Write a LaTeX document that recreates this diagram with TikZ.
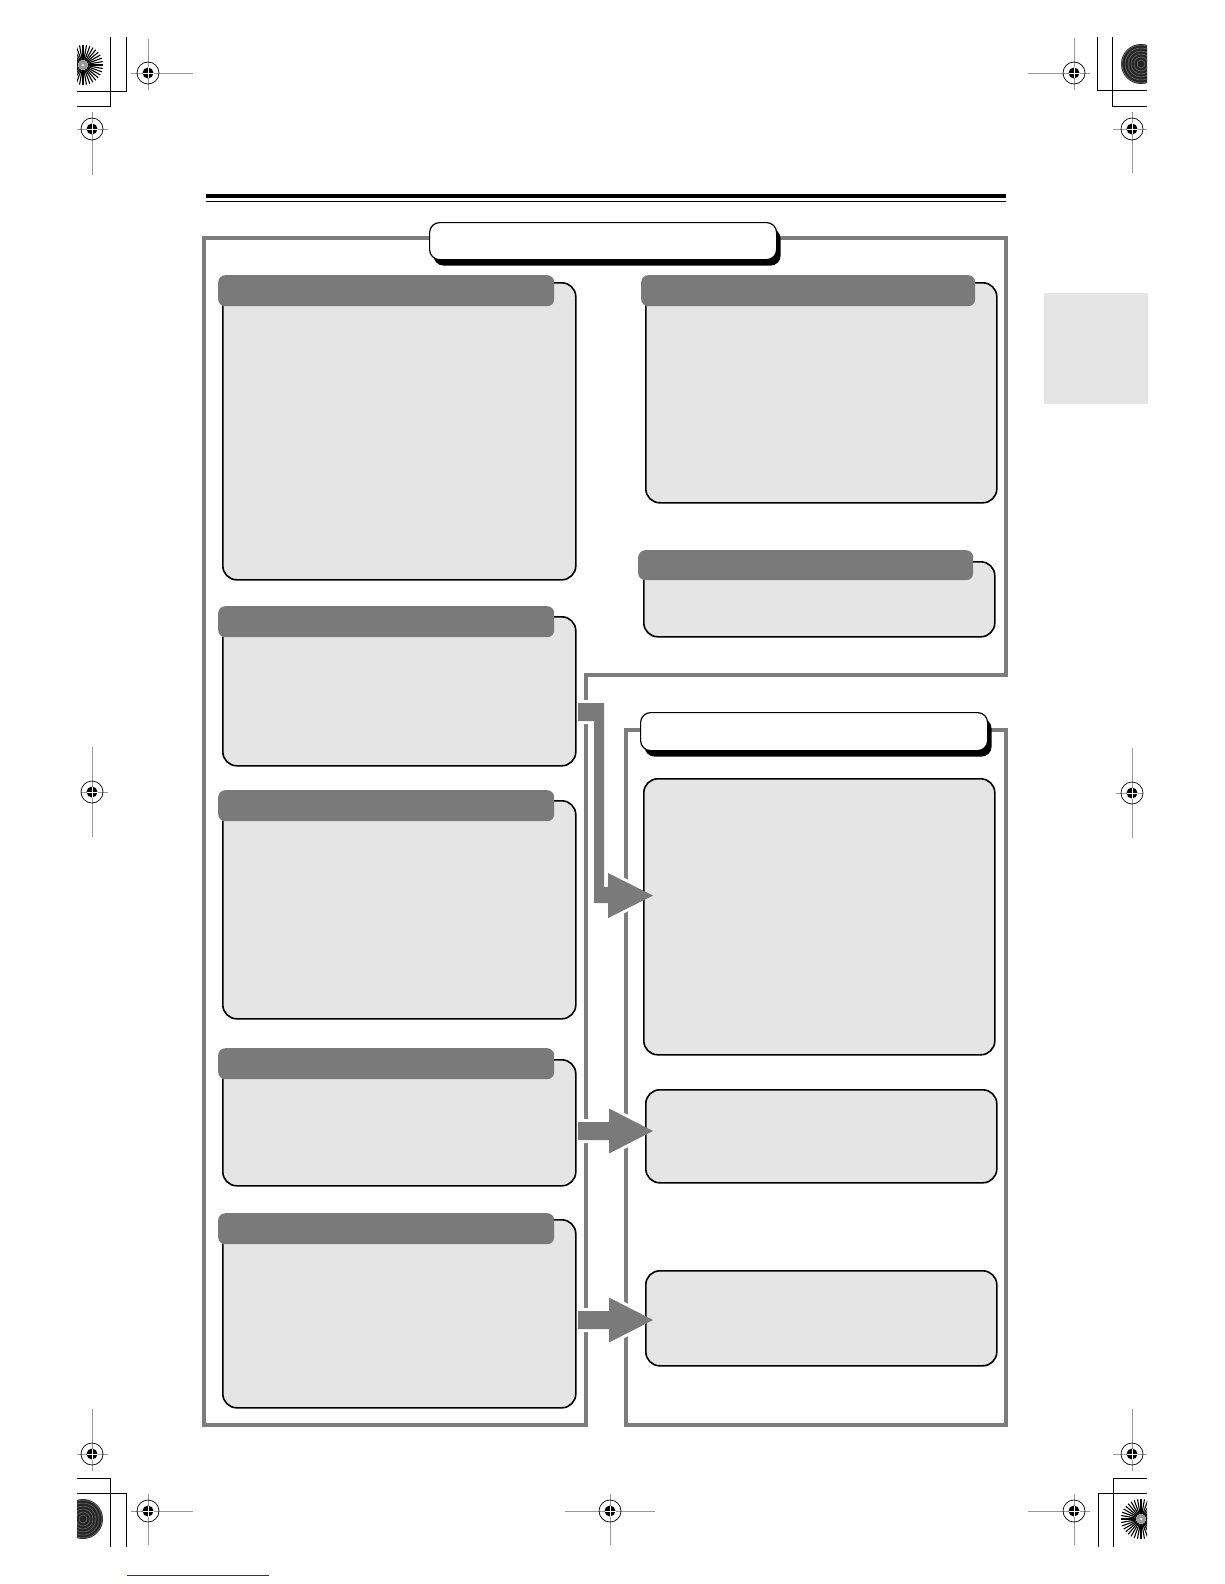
\documentclass[tikz,border=0pt]{standalone}
\usetikzlibrary{shadows}
\definecolor{framegray}{RGB}{125,125,125}
\definecolor{hdrgray}{RGB}{122,122,122}
\definecolor{panelfill}{RGB}{229,229,229}
\definecolor{linkblue}{RGB}{40,40,150}
\tikzset{
	panel/.style={
		draw,
		line width=1.6pt,
		fill=panelfill,
		rounded corners=14pt,
		inner sep=0pt,
		anchor=north west,
		minimum width=353pt
	},
	header/.style={
		fill=hdrgray,
		rounded corners=7pt,
		inner sep=0pt,
		anchor=north west,
		minimum height=31pt
	},
	titlebox/.style={
		draw,
		line width=1.2pt,
		fill=white,
		rounded corners=10pt,
		inner sep=0pt,
		anchor=north west,
		minimum width=347pt,
		minimum height=37pt,
		drop shadow={fill=black, opacity=1, shadow xshift=4pt, shadow yshift=-6pt}
	},
	frameline/.style={draw=framegray, line width=4pt},
	flowarrow/.style={fill=hdrgray},
	arrowgap/.style={draw=white, line width=6pt, line join=round},
	hairline/.style={draw=black!40, line width=0.8pt},
	cropline/.style={draw=black, line width=1pt}
}
% registration mark: x, y, left, right, up, down
\newcommand{\regmark}[6]{%
	\draw[hairline] (#1-#3,#2) -- (#1+#4,#2) (#1,#2-#5) -- (#1,#2+#6);
	\draw[line width=0.7pt] (#1,#2) circle[radius=11pt];
	\fill (#1,#2) circle[radius=5.5pt];
	\draw[white, line width=0.7pt] (#1-5.5,#2) -- (#1+5.5,#2) (#1,#2-5.5) -- (#1,#2+5.5);
}
\newcommand{\spokedisk}[2]{%
	\begin{scope}
	\clip (77,0) rectangle (1147,1584);
	\fill[white] (#1,#2) circle[radius=20pt];
	\foreach \ang in {0,10,...,350} \draw[line width=1.1pt] (#1,#2) ++(\ang:5pt) -- ++(\ang:15pt);
	\fill[black!40] (#1,#2) circle[radius=5pt];
	\fill[white] (#1,#2) circle[radius=1.2pt];
	\end{scope}
}
\newcommand{\ringdisk}[2]{%
	\begin{scope}
	\clip (77,0) rectangle (1147,1584);
	\fill[black!85] (#1,#2) circle[radius=20pt];
	\foreach \rr in {4,7,...,19} \draw[black!55, line width=0.5pt] (#1,#2) circle[radius=\rr pt];
	\end{scope}
}
\newcommand{\blockarrow}[2]{%
	\path[#1] (#2) ++(0,-9) -- ++(31,0) -- ++(0,-13.5) -- ++(44,22.5) -- ++(-44,22.5) -- ++(0,-13.5) -- ++(-31,0) -- cycle;
}
\newcommand{\bentarrow}[1]{%
	\path[#1] (arrA) -- ++(26,0) -- ++(0,184) -- ++(4,0) -- ++(0,-14) -- ++(45,22.5) -- ++(-45,22.5) -- ++(0,-15) -- ++(-14,0) -- ++(0,-182) -- ++(-16,0) -- cycle;
}
\begin{document}
\begin{tikzpicture}[x=1pt, y=-1pt]
	\path[use as bounding box, fill=white] (0,0) rectangle (1224,1584);
	
	% printer marks
	\draw[cropline] (126,37) -- (126,92) -- (77,92) (110,37) -- (110,107) -- (77,107);
	\draw[cropline] (1097,37) -- (1097,91) -- (1147,91) (1112,37) -- (1112,107) -- (1147,107);
	\draw[cropline] (77,1478) -- (110,1478) -- (110,1547) (77,1493) -- (126,1493) -- (126,1547);
	\draw[cropline] (1147,1478) -- (1113,1478) -- (1113,1547) (1147,1493) -- (1098,1493) -- (1098,1547);
	\spokedisk{83}{65}
	\ringdisk{1141}{64}
	\ringdisk{83}{1519}
	\spokedisk{1141}{1519}
	\regmark{148}{73}{17}{45}{34}{17}
	\regmark{92}{129}{15}{16}{17}{46}
	\regmark{1074}{73}{46}{16}{35}{17}
	\regmark{1132}{129}{19}{15}{17}{44}
	\regmark{92}{792}{11}{16}{45}{45}
	\regmark{1132}{793}{16}{11}{45}{45}
	\regmark{92}{1454}{15}{16}{45}{17}
	\regmark{148}{1511}{17}{45}{17}{34}
	\regmark{610}{1511}{45}{45}{17}{34}
	\regmark{1074}{1511}{46}{16}{17}{34}
	\regmark{1132}{1454}{19}{15}{45}{17}
	\draw[linkblue, line width=1pt] (127,1575) -- (269,1575);
	
	% side tab and heading rules
	\fill[panelfill] (1044,293) rectangle (1148,404);
	\draw[line width=4pt] (206,196) -- (1006,196);
	\draw[line width=1.2pt] (206,201.5) -- (1006,201.5);
	
	% frames
	\draw[frameline] (204,238) -- (1006,238) -- (1006,675) -- (586,675) -- (586,1425) -- (204,1425) -- cycle;
	\draw[frameline] (626,730) -- (1006,730) -- (1006,1425) -- (626,1425) -- cycle;
	
	\coordinate (arrA) at (578,703);
	\coordinate (arrB) at (578,1131);
	\coordinate (arrC) at (578,1320);
	\bentarrow{arrowgap}
	\blockarrow{arrowgap}{arrB}
	\blockarrow{arrowgap}{arrC}
	
	% titles
	\node[titlebox] (maintitle) at (429,222) {};
	\node[titlebox, minimum height=38pt] (subtitle) at (640,712) {};
	
	% left column
	\foreach \n/\ya/\yb/\hy in {1/282/579/275, 2/616/765/606, 3/800/1018/790, 4/1059/1185/1048, 5/1219/1407/1213} {
		\node[panel, minimum height={(\yb-\ya)*1pt}] (lpanel\n) at (222,\ya) {};
		\node[header, minimum width=336pt] (lheader\n) at (218,\hy) {};
	}
	
	% right column
	\node[panel, minimum width=351pt, minimum height=220pt] (rpanel1) at (645,282) {};
	\node[header, minimum width=334pt] (rheader1) at (641,275) {};
	\node[panel, minimum width=351pt, minimum height=75pt] (rpanel2) at (643,561) {};
	\node[header, minimum width=335pt, minimum height=30pt] (rheader2) at (638,550) {};
	
	\node[panel, minimum width=351pt, minimum height=276pt] (opanel1) at (643,778) {};
	\node[panel, minimum width=351pt, minimum height=93pt] (opanel2) at (645,1089) {};
	\node[panel, minimum width=351pt, minimum height=95pt] (opanel3) at (645,1270) {};
	
	% arrows
	\bentarrow{flowarrow}
	\blockarrow{flowarrow}{arrB}
	\blockarrow{flowarrow}{arrC}
\end{tikzpicture}
\end{document}
